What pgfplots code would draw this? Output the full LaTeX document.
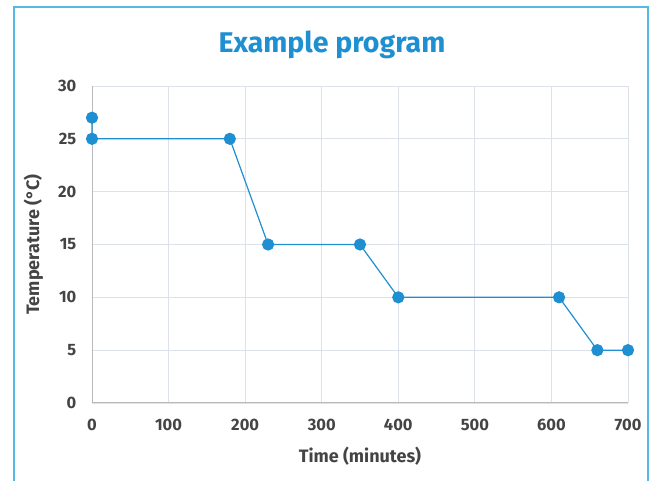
\documentclass[border=0pt]{standalone}
\usepackage{fontspec}
\setmainfont{Fira Sans}
\usepackage{pgfplots}
\pgfplotsset{compat=1.18}
\definecolor{progblue}{HTML}{1E8FD0}
\definecolor{framblue}{HTML}{55B9E4}
\definecolor{labgray}{HTML}{444444}
\definecolor{gridgray}{HTML}{DDE1EA}
\begin{document}
\begin{tikzpicture}[x=1pt,y=1pt]
\useasboundingbox (0,0) rectangle (656,481);
\draw[framblue, line width=1.4pt] (14,-5) -- (14,474) -- (648,474) -- (648,-5);
\node[font=\bfseries\fontsize{28.5}{32}\selectfont, text=progblue] at (332,436) {Example program};
\begin{axis}[
  at={(92pt,78pt)}, anchor=origin,
  scale only axis,
  width=536pt, height=317pt,
  xmin=0, xmax=700, ymin=0, ymax=30,
  xtick={0,100,...,700}, ytick={0,5,...,30},
  axis x line=bottom, axis y line=left,
  axis line style={-, draw=gray!55, line width=1pt},
  grid=major,
  major grid style={draw=gridgray, line width=0.8pt},
  tick style={draw=none},
  /pgf/number format/assume math mode=true,
  ticklabel style={font=\bfseries\fontsize{16.5}{19}\selectfont, text=labgray},
  xticklabel style={yshift=-10pt},
  yticklabel style={xshift=-10pt},
  xlabel={Time (minutes)},
  ylabel={Temperature (°C)},
  label style={font=\bfseries\fontsize{18}{20}\selectfont, text=labgray},
  xlabel style={yshift=-10pt},
  ylabel style={yshift=8pt},
  clip=false,
]
\addplot[progblue, line width=1.2pt, mark=*, mark size=5.5pt,
  mark options={fill=progblue, draw=progblue}] coordinates {
  (0,27) (0,25) (180,25) (230,15) (350,15) (400,10) (610,10) (660,5) (700,5)
};
\end{axis}
\end{tikzpicture}
\end{document}
